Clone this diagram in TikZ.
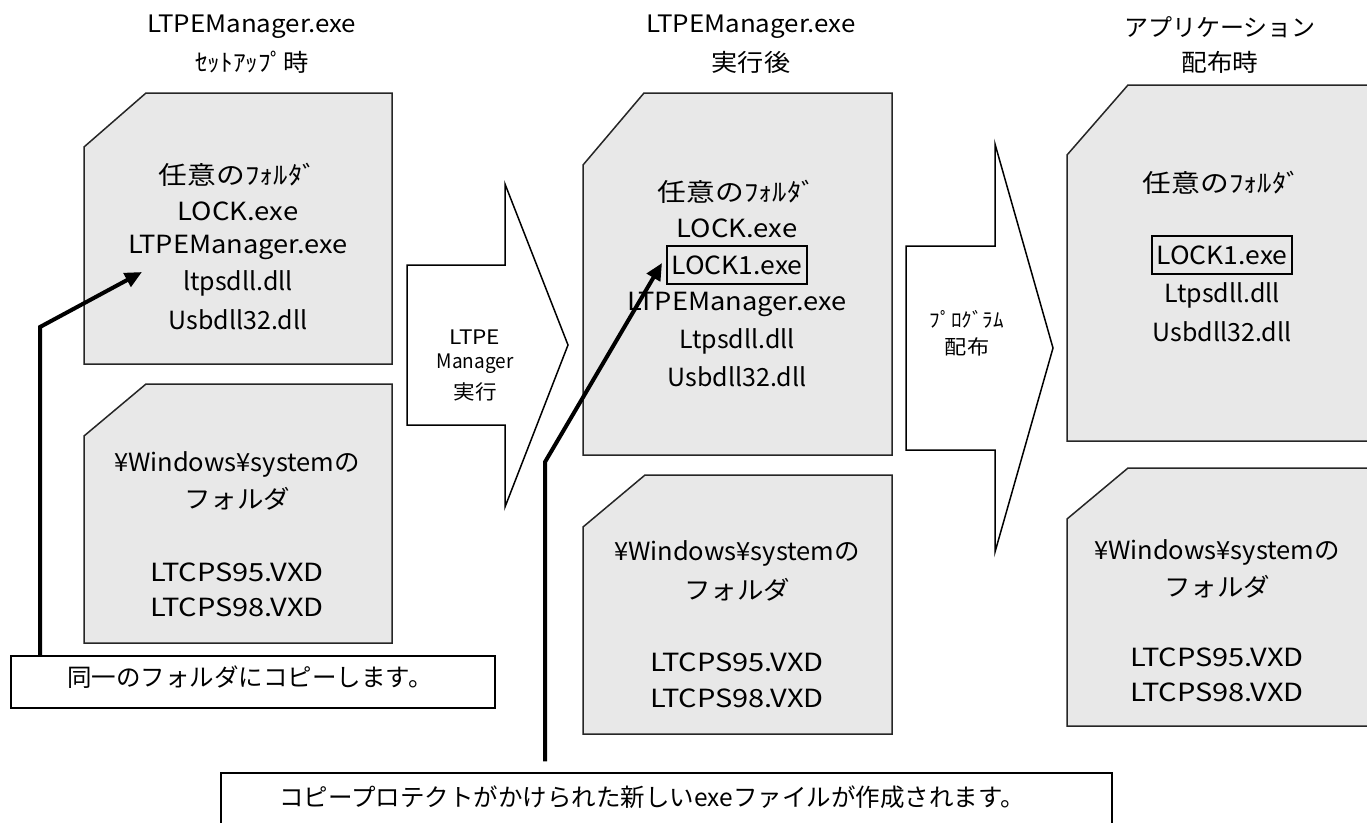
\documentclass[tikz,border=0pt]{standalone}
\usepackage{fontspec}
\usepackage{graphicx}
\setmainfont{Noto Sans CJK JP}
\usetikzlibrary{arrows.meta}
\definecolor{boxgray}{HTML}{E8E8E8}
\newcommand{\hsc}[2]{\scalebox{#1}[1]{#2}}
\tikzset{
  folder/.style={draw=black!85, line width=1.5pt, fill=boxgray, line join=miter},
  blockarrow/.style={draw=black, line width=1.5pt, fill=white, line join=miter},
  bigtxt/.style={font=\fontsize{25}{25}\selectfont, inner sep=0pt},
  titletxt/.style={font=\fontsize{24}{24}\selectfont, inner sep=0pt},
  callouttxt/.style={font=\fontsize{24.5}{24.5}\selectfont, inner sep=0pt},
  smalltxt/.style={font=\fontsize{20}{20}\selectfont, inner sep=0pt},
  callout/.style={draw=black, line width=1.5pt, fill=white, inner sep=0pt},
  hilite/.style={draw=black, line width=1.3pt, inner sep=0pt, minimum width=140pt, minimum height=38pt},
  thickarrow/.style={line width=4pt, -{Triangle[length=17pt,width=15pt]}, line join=miter}
}
\begin{document}
\begin{tikzpicture}[x=1pt,y=-1pt]
\clip (0,0) rectangle (1367,822);
\fill[white] (0,0) rectangle (1367,822);

% titles
\node[titletxt] (t1a) at (252,27) {\hsc{1.08}{LTPEManager.exe}};
\node[titletxt] (t1b) at (252,62) {\hsc{1.055}{ｾｯﾄｱｯﾌﾟ時}};
\node[titletxt] (t2a) at (751,27) {\hsc{1.08}{LTPEManager.exe}};
\node[titletxt] (t2b) at (751,62) {\hsc{1.09}{実行後}};
\node[titletxt] (t3a) at (1220,27) {アプリケーション};
\node[titletxt] (t3b) at (1220,62) {\hsc{1.07}{配布時}};

% folders
\draw[folder] (146,93) -- (392,93) -- (392,364) -- (84,364) -- (84,147) -- cycle;
\draw[folder] (146,384) -- (392,384) -- (392,643) -- (84,643) -- (84,436) -- cycle;
\draw[folder] (644,93) -- (892,93) -- (892,455) -- (583,455) -- (583,165) -- cycle;
\draw[folder] (645,475) -- (892,475) -- (892,734) -- (583,734) -- (583,527) -- cycle;
\draw[folder] (1128,85) -- (1380,85) -- (1380,441) -- (1067,441) -- (1067,155) -- cycle;
\draw[folder] (1128,468) -- (1380,468) -- (1380,726) -- (1067,726) -- (1067,519) -- cycle;

% left folder texts
\node[bigtxt] (l1) at (238,175) {\hsc{1.15}{任意のﾌｫﾙﾀﾞ}};
\node[bigtxt] (l2) at (238,211) {\hsc{1.10}{LOCK.exe}};
\node[bigtxt] (l3) at (238,247) {\hsc{1.09}{LTPEManager.exe}};
\node[bigtxt] (l4) at (238,283) {ltpsdll.dll};
\node[bigtxt] (l5) at (238,320) {Usbdll32.dll};
\node[bigtxt] (ls1) at (237,464) {\hsc{1.02}{¥Windows¥systemの}};
\node[bigtxt] (ls2) at (237,499) {\hsc{1.06}{フォルダ}};
\node[bigtxt] (ls3) at (237,572) {\hsc{1.16}{LTCPS95.VXD}};
\node[bigtxt] (ls4) at (237,607) {\hsc{1.16}{LTCPS98.VXD}};

% middle folder texts
\node[bigtxt] (m1) at (737,192) {\hsc{1.15}{任意のﾌｫﾙﾀﾞ}};
\node[bigtxt] (m2) at (737,228) {\hsc{1.10}{LOCK.exe}};
\node[bigtxt, hilite] (m3) at (737,265) {\hsc{1.06}{LOCK1.exe}};
\node[bigtxt] (m4) at (737,304) {\hsc{1.09}{LTPEManager.exe}};
\node[bigtxt] (m5) at (737,341) {Ltpsdll.dll};
\node[bigtxt] (m6) at (737,377) {Usbdll32.dll};
\node[bigtxt] (ms1) at (737,553) {\hsc{1.02}{¥Windows¥systemの}};
\node[bigtxt] (ms2) at (737,590) {\hsc{1.06}{フォルダ}};
\node[bigtxt] (ms3) at (737,662) {\hsc{1.16}{LTCPS95.VXD}};
\node[bigtxt] (ms4) at (737,698) {\hsc{1.16}{LTCPS98.VXD}};

% right folder texts
\node[bigtxt] (r1) at (1222,183) {\hsc{1.15}{任意のﾌｫﾙﾀﾞ}};
\node[bigtxt, hilite] (r2) at (1222,255) {\hsc{1.06}{LOCK1.exe}};
\node[bigtxt] (r3) at (1222,295) {Ltpsdll.dll};
\node[bigtxt] (r4) at (1222,332) {Usbdll32.dll};
\node[bigtxt] (rs1) at (1217,552) {\hsc{1.02}{¥Windows¥systemの}};
\node[bigtxt] (rs2) at (1217,587) {\hsc{1.06}{フォルダ}};
\node[bigtxt] (rs3) at (1217,657) {\hsc{1.16}{LTCPS95.VXD}};
\node[bigtxt] (rs4) at (1217,692) {\hsc{1.16}{LTCPS98.VXD}};

% block arrows
\draw[blockarrow] (407,265) -- (505,265) -- (505,184) -- (568,345) -- (505,507) -- (505,425) -- (407,425) -- cycle;
\node[smalltxt] (a1a) at (475,337) {\hsc{1.13}{LTPE}};
\node[smalltxt] (a1b) at (475,364) {\hsc{0.95}{Manager}};
\node[smalltxt] (a1c) at (475,392) {\hsc{1.08}{実行}};
\draw[blockarrow] (906,246) -- (995,246) -- (995,144) -- (1053,348) -- (995,552) -- (995,450) -- (906,450) -- cycle;
\node[smalltxt] (a2a) at (967,319) {\hsc{1.06}{ﾌﾟﾛｸﾞﾗﾑ}};
\node[smalltxt] (a2b) at (967,347) {\hsc{1.11}{配布}};

% callouts
\node[callout, minimum width=484pt, minimum height=52pt] (c1) at (253,682) {};
\node[callouttxt] (c1t) at (250,677) {同一のフォルダにコピーします。};
\node[callout, minimum width=891pt, minimum height=62pt] (c2) at (666.5,804) {};
\node[callouttxt] (c2t) at (652,797) {コピープロテクトがかけられた新しいexeファイルが作成されます。};

% thick connectors
\coordinate (k1) at (40,327);
\coordinate (k1tip) at (142,272);
\draw[thickarrow] (c1.north -| k1) -- (k1) -- (k1tip);
\coordinate (k2) at (545,462);
\coordinate (k2tip) at (662,263);
\draw[thickarrow, shorten <=11pt] (c2.north -| k2) -- (k2) -- (k2tip);
\end{tikzpicture}
\end{document}
